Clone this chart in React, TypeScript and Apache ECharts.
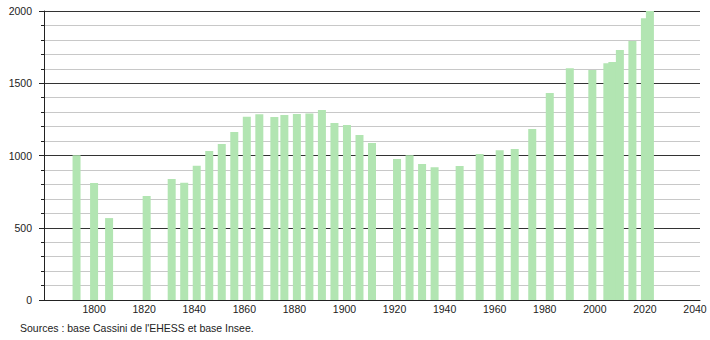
import React, { useEffect, useRef } from "react";
import * as echarts from "echarts";

const years = [
  1793, 1800, 1806, 1821, 1831, 1836, 1841, 1846, 1851, 1856, 1861, 1866, 1872,
  1876, 1881, 1886, 1891, 1896, 1901, 1906, 1911, 1921, 1926, 1931, 1936, 1946,
  1954, 1962, 1968, 1975, 1982, 1990, 1999, 2005, 2007, 2010, 2015, 2020, 2022,
];
const population = [
  1002, 810, 567, 720, 837, 812, 929, 1031, 1080, 1162, 1268, 1285, 1266, 1280,
  1287, 1290, 1315, 1225, 1211, 1142, 1086, 976, 1001, 941, 918, 927, 1010, 1036,
  1045, 1183, 1432, 1603, 1592, 1638, 1647, 1730, 1792, 1950, 2000,
];
const xTickLabels = [1800, 1820, 1840, 1860, 1880, 1900, 1920, 1940, 1960, 1980, 2000, 2020, 2040];
const sourceText = "Sources : base Cassini de l'EHESS et base Insee.";

export default function App() {
  const ref = useRef<HTMLDivElement>(null);
  useEffect(() => {
    if (!ref.current) return;
    const chart = echarts.init(ref.current, null, { renderer: "svg" });
    const font = "Liberation Sans, Arial, sans-serif";
    chart.setOption({
      animation: false,
      backgroundColor: "#ffffff",
      grid: { left: 44, right: 10, top: 11, bottom: 40, containLabel: false },
      xAxis: {
        type: "value",
        min: 1780,
        max: 2042,
        interval: 20,
        axisLine: { show: true, lineStyle: { color: "#222", width: 1 } },
        axisTick: { show: false },
        splitLine: { show: false },
        axisLabel: {
          margin: 3,
          fontSize: 10.5,
          fontFamily: font,
          color: "#222",
          formatter: (v: number) => (xTickLabels.includes(v) ? String(v) : ""),
        },
      },
      yAxis: {
        type: "value",
        min: 0,
        max: 2000,
        interval: 500,
        axisLine: { show: true, lineStyle: { color: "#222", width: 1 } },
        axisTick: { show: true, length: 5, lineStyle: { color: "#222" } },
        minorTick: { show: true, splitNumber: 5, length: 3, lineStyle: { color: "#222" } },
        splitLine: { show: true, lineStyle: { color: "#333", width: 1 } },
        minorSplitLine: { show: true, lineStyle: { color: "#c8c8c8", width: 1 } },
        axisLabel: {
          margin: 12,
          fontSize: 10.5,
          fontFamily: font,
          color: "#222",
          formatter: (v: number) => String(v),
        },
      },
      series: [
        {
          type: "bar",
          barWidth: 8,
          itemStyle: { color: "#b2e5b2" },
          data: years.map((y, i) => [y, population[i]]),
        },
      ],
      graphic: [
        {
          type: "text",
          left: 20,
          top: 322,
          style: { text: sourceText, fontSize: 10.5, fontFamily: font, fill: "#222" },
        },
      ],
    });
    return () => chart.dispose();
  }, []);
  return (
    <div
      ref={ref}
      style={{ position: "fixed", left: 0, top: 0, width: 710, height: 340 }}
    />
  );
}
